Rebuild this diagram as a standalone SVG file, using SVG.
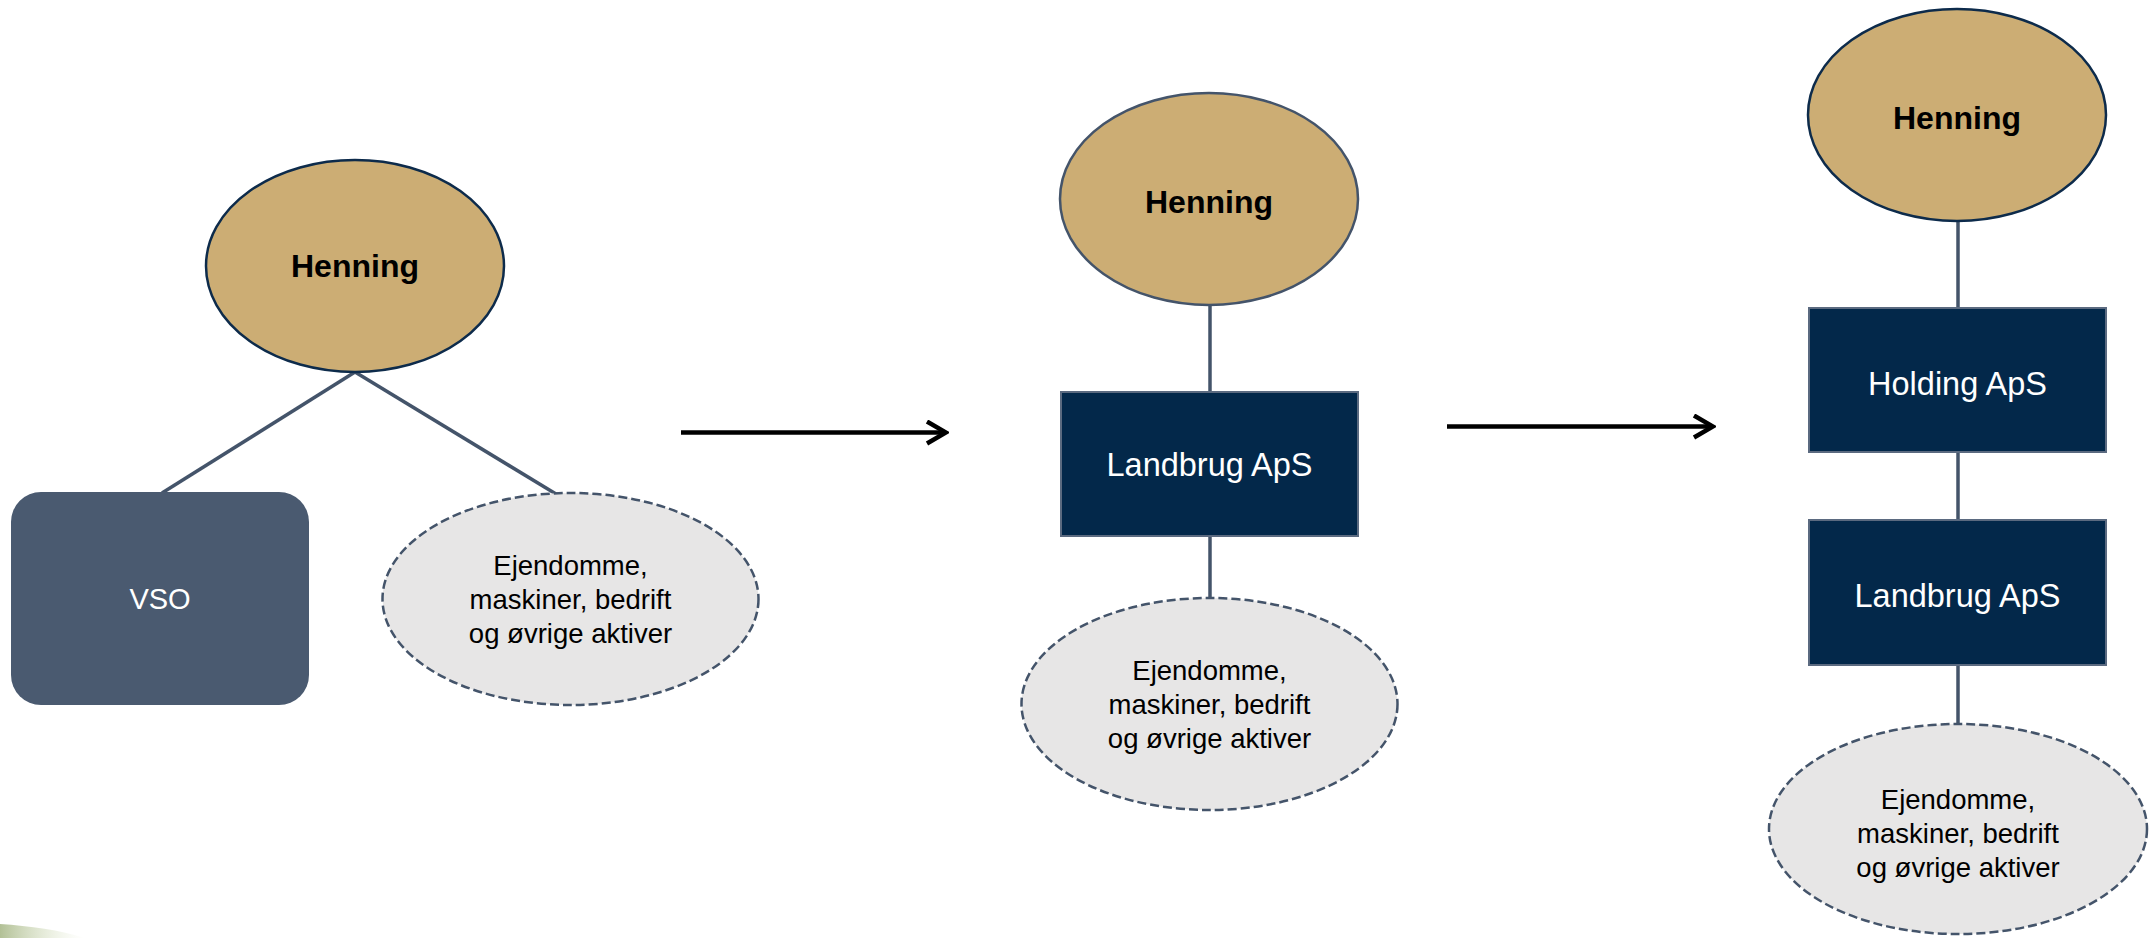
<svg xmlns="http://www.w3.org/2000/svg" width="2151" height="938" viewBox="0 0 2151 938">
  <defs>
    <style>
      .person { fill: #ccad74; stroke-width: 2.5; }
      .navy { stroke: #0d2b4b; }
      .slate { stroke: #44546a; }
      .company { fill: #03284a; stroke: #5b6a80; stroke-width: 2; }
      .assets { fill: #e7e6e6; stroke: #44546a; stroke-width: 2.5; stroke-dasharray: 9 4; }
      .link { stroke: #44546a; stroke-width: 3.5; fill: none; }
      .arrow { stroke: #000; stroke-width: 4.5; fill: none; }
      .name { font-family: "Liberation Sans", Arial, sans-serif; font-weight: bold; font-size: 32px; fill: #000; text-anchor: middle; }
      .co { font-family: "Liberation Sans", Arial, sans-serif; font-size: 32.5px; fill: #fff; text-anchor: middle; }
      .as { font-family: "Liberation Sans", Arial, sans-serif; font-size: 27.5px; fill: #000; text-anchor: middle; }
    </style>
    <marker id="chev" viewBox="0 0 24 26" refX="21" refY="13" markerWidth="24" markerHeight="26" markerUnits="userSpaceOnUse" orient="auto">
      <polyline points="2,2 21,13 2,24" fill="none" stroke="#000" stroke-width="4.5" stroke-linejoin="miter"/>
    </marker>
    <linearGradient id="swoosh" x1="0" y1="0" x2="1" y2="0">
      <stop offset="0" stop-color="#a9b98a" stop-opacity="0.9"/>
      <stop offset="1" stop-color="#dfe8c8" stop-opacity="0"/>
    </linearGradient>
  </defs>
  <rect width="2151" height="938" fill="#fff"/>
  <path d="M0,924 C30,926 60,930 85,938 L0,938 Z" fill="url(#swoosh)"/>

  <g id="connectors">
    <line class="link" x1="355" y1="372" x2="162" y2="493"/>
    <line class="link" x1="355" y1="372" x2="556" y2="494"/>
    <line class="link" x1="1210" y1="305" x2="1210" y2="392"/>
    <line class="link" x1="1210" y1="536" x2="1210" y2="598"/>
    <line class="link" x1="1958" y1="221" x2="1958" y2="308"/>
    <line class="link" x1="1958" y1="452" x2="1958" y2="520"/>
    <line class="link" x1="1958" y1="665" x2="1958" y2="724"/>
    <line class="arrow" x1="681" y1="432.5" x2="946" y2="432.5" marker-end="url(#chev)"/>
    <line class="arrow" x1="1447" y1="426.5" x2="1713" y2="426.5" marker-end="url(#chev)"/>
  </g>

  <g id="henning1">
    <ellipse class="person navy" cx="355" cy="266" rx="149" ry="106"/>
    <text class="name" x="355" y="277">Henning</text>
  </g>
  <g id="vso">
    <rect x="11" y="492" width="298" height="213" rx="30" ry="30" fill="#4a5a70"/>
    <text class="co" x="160" y="609" style="font-size:29px">VSO</text>
  </g>
  <g id="assets1">
    <ellipse class="assets" cx="570.5" cy="599" rx="188" ry="106"/>
    <text class="as" x="570.5" y="575">Ejendomme,</text>
    <text class="as" x="570.5" y="609">maskiner, bedrift</text>
    <text class="as" x="570.5" y="643">og øvrige aktiver</text>
  </g>

  <g id="henning2">
    <ellipse class="person slate" cx="1209" cy="199" rx="149" ry="106"/>
    <text class="name" x="1209" y="213">Henning</text>
  </g>
  <g id="landbrug2">
    <rect class="company" x="1061" y="392" width="297" height="144"/>
    <text class="co" x="1209.5" y="476">Landbrug ApS</text>
  </g>
  <g id="assets2">
    <ellipse class="assets" cx="1209.5" cy="704" rx="188" ry="106"/>
    <text class="as" x="1209.5" y="680">Ejendomme,</text>
    <text class="as" x="1209.5" y="714">maskiner, bedrift</text>
    <text class="as" x="1209.5" y="748">og øvrige aktiver</text>
  </g>

  <g id="henning3">
    <ellipse class="person navy" cx="1957" cy="115" rx="149" ry="106"/>
    <text class="name" x="1957" y="129">Henning</text>
  </g>
  <g id="holding3">
    <rect class="company" x="1809" y="308" width="297" height="144"/>
    <text class="co" x="1957.5" y="395">Holding ApS</text>
  </g>
  <g id="landbrug3">
    <rect class="company" x="1809" y="520" width="297" height="145"/>
    <text class="co" x="1957.5" y="607">Landbrug ApS</text>
  </g>
  <g id="assets3">
    <ellipse class="assets" cx="1958" cy="829" rx="189" ry="105"/>
    <text class="as" x="1958" y="809">Ejendomme,</text>
    <text class="as" x="1958" y="843">maskiner, bedrift</text>
    <text class="as" x="1958" y="877">og øvrige aktiver</text>
  </g>
</svg>
